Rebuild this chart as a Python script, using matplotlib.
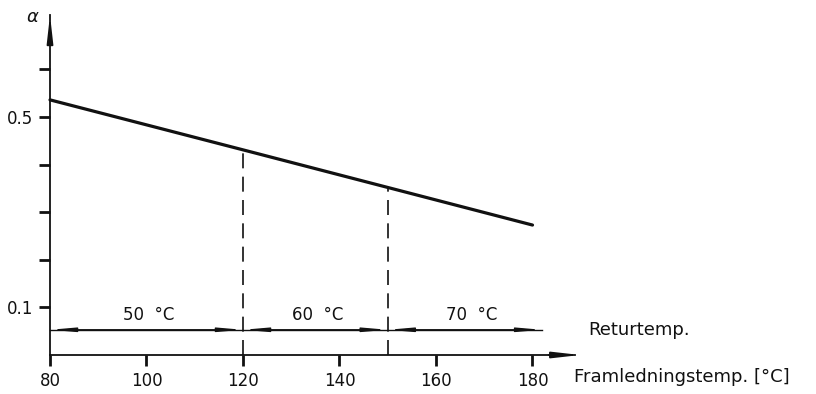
import matplotlib
matplotlib.use("Agg")
import matplotlib.pyplot as plt

# ── data ────────────────────────────────────────────────────────────
framledning = [80, 120, 150, 180]          # supply temperature [°C]
alpha = [0.536, 0.431, 0.352, 0.273]       # alpha at those temperatures

x_ticks = [80, 100, 120, 140, 160, 180]
y_ticks = [0.1, 0.2, 0.3, 0.4, 0.5, 0.6]
y_ticklabels = ["0.1", "", "", "", "0.5", ""]

# return-temperature bands along the supply axis
band_edges = [80, 120, 150, 182]
band_labels = ["50  °C", "60  °C", "70  °C"]
band_label_x = [100.5, 135.5, 167.5]
retur_level = 0.053

FONT = 12
plt.rcParams["font.family"] = ["DejaVu Sans"]

fig = plt.figure(figsize=(8.16, 3.94), dpi=100)
W, H = 816, 394
# axes placed in pixel terms: x 50..575, y (from top) 15..355
ax = fig.add_axes([50 / W, (H - 355) / H, 525 / W, 340 / H])
ax.set_xlim(80, 80 + 525 / 4.825)
ax.set_ylim(0, 340 / 476)

for side in ("top", "right"):
    ax.spines[side].set_visible(False)
for side in ("left", "bottom"):
    ax.spines[side].set_linewidth(1.3)
    ax.spines[side].set_color("#111")

# axis arrowheads (slender, like the drawn original)
ax.annotate("", xy=(1.01, 0), xytext=(0.95, 0), xycoords="axes fraction",
            arrowprops=dict(arrowstyle="-|>,head_length=1.6,head_width=0.18",
                            mutation_scale=10, color="#111", lw=1.3,
                            shrinkA=0, shrinkB=0), annotation_clip=False)
ax.annotate("", xy=(0, 1.0), xytext=(0, 0.93), xycoords="axes fraction",
            arrowprops=dict(arrowstyle="-|>,head_length=1.6,head_width=0.18",
                            mutation_scale=10, color="#111", lw=1.3,
                            shrinkA=0, shrinkB=0), annotation_clip=False)

ax.set_xticks(x_ticks)
ax.set_xticklabels([str(v) for v in x_ticks], fontsize=FONT)
ax.set_yticks(y_ticks)
ax.set_yticklabels(y_ticklabels, fontsize=FONT)
ax.tick_params(axis="both", direction="out", length=8, width=2, colors="#111", pad=4)

# main curve
ax.plot(framledning, alpha, color="#111", linewidth=2.3, solid_capstyle="round", clip_on=False)

# dashed drops at the band boundaries
for xv, yv in zip(framledning[1:3], alpha[1:3]):
    ax.plot([xv, xv], [0, yv], color="#111", linewidth=1.2, dashes=(9, 5))

# return-temperature line with double arrows in each band
ax.plot([band_edges[0], band_edges[-1]], [retur_level, retur_level],
        color="#111", linewidth=1.0, clip_on=False)
for x0, x1 in zip(band_edges[:-1], band_edges[1:]):
    ax.annotate("", xy=(x1, retur_level), xytext=(x0, retur_level),
                arrowprops=dict(arrowstyle="<|-|>,head_length=1.4,head_width=0.12",
                                mutation_scale=10, color="#111", lw=1.0,
                                shrinkA=0, shrinkB=0),
                annotation_clip=False)
for lx, lab in zip(band_label_x, band_labels):
    ax.text(lx, retur_level + 0.013, lab, fontsize=FONT, ha="center", va="bottom", color="#111")

ax.text(191.5, retur_level, "Returtemp.", fontsize=13, ha="left", va="center", color="#111")
ax.text(188.5, -0.047, "Framledningstemp. [°C]", fontsize=13, ha="left", va="center", color="#111")
ax.text(-0.033, 0.995, "α", transform=ax.transAxes, fontsize=FONT + 1, style="italic",
        ha="center", va="center", color="#111")

fig.savefig("out.png", dpi=100, facecolor="white")
